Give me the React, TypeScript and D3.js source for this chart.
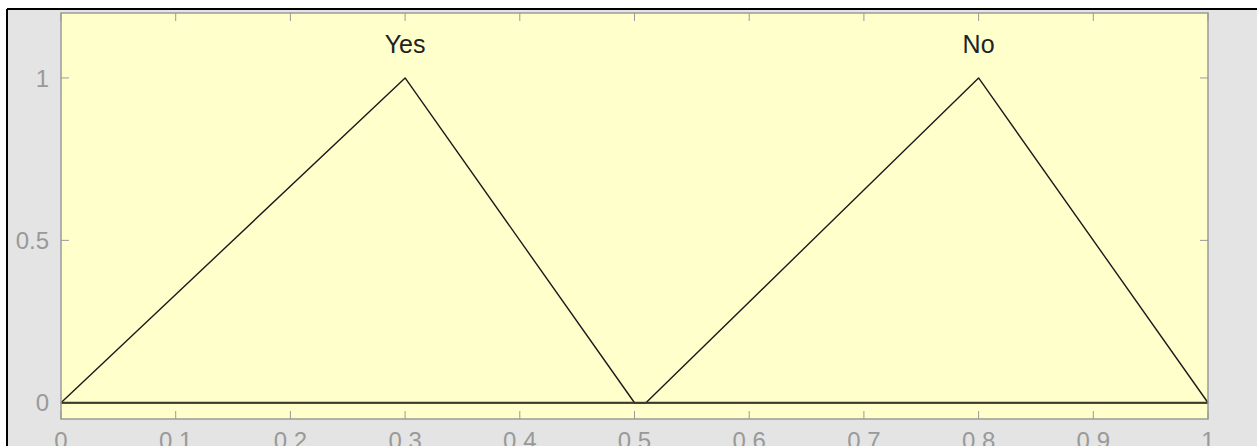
import React from "react";
import * as d3 from "d3";

// Membership function breakpoints (x, membership)
const yesX = [0, 0.3, 0.5, 1];
const yesY = [0, 1, 0, 0];
const noX = [0, 0.51, 0.8, 1];
const noY = [0, 0, 1, 0];

const mfNames = ["Yes", "No"];
const mfPeaks = [0.3, 0.8];

const xTicks = [0, 0.1, 0.2, 0.3, 0.4, 0.5, 0.6, 0.7, 0.8, 0.9, 1];
const yTicks = [0, 0.5, 1];

const W = 1257;
const H = 446;
const plot = { left: 61, right: 1208, top: 13, bottom: 419 };

export default function App() {
  const x = d3.scaleLinear().domain([0, 1]).range([plot.left, plot.right]);
  const y = d3.scaleLinear().domain([-0.05, 1.2]).range([plot.bottom, plot.top]);

  const line = d3
    .line<[number, number]>()
    .x((d) => x(d[0]))
    .y((d) => y(d[1]));

  const series: [number, number][][] = [
    yesX.map((v, i) => [v, yesY[i]] as [number, number]),
    noX.map((v, i) => [v, noY[i]] as [number, number]),
  ];

  const font = "Liberation Sans, Arial, Helvetica, sans-serif";
  const axisGray = "#9a9a9a";
  const textGray = "#999999";
  const tickLen = 8;

  return (
    <svg
      width={W}
      height={H}
      style={{ position: "absolute", left: 0, top: 0, display: "block" }}
    >
      <rect x={0} y={0} width={W} height={H} fill="#ffffff" />
      {/* figure panel */}
      <rect x={7} y={9} width={W - 7} height={H - 9} fill="#e4e4e4" />
      <line x1={7} y1={9} x2={W} y2={9} stroke="#000" strokeWidth={2} />
      <line x1={7} y1={9} x2={7} y2={H} stroke="#000" strokeWidth={2} />

      {/* axes area */}
      <rect
        x={plot.left}
        y={plot.top}
        width={plot.right - plot.left}
        height={plot.bottom - plot.top}
        fill="#ffffcc"
      />

      {/* ticks */}
      {xTicks.map((t) => (
        <g key={"xt" + t}>
          <line x1={x(t)} x2={x(t)} y1={plot.bottom} y2={plot.bottom - tickLen} stroke={axisGray} strokeWidth={1} />
          <line x1={x(t)} x2={x(t)} y1={plot.top} y2={plot.top + tickLen} stroke={axisGray} strokeWidth={1} />
          <text
            x={x(t)}
            y={449}
            textAnchor="middle"
            fontFamily={font}
            fontSize={24}
            fill={textGray}
          >
            {String(t)}
          </text>
        </g>
      ))}
      {yTicks.map((t) => (
        <g key={"yt" + t}>
          <line x1={plot.left} x2={plot.left + tickLen} y1={y(t)} y2={y(t)} stroke={axisGray} strokeWidth={1} />
          <line x1={plot.right} x2={plot.right - tickLen} y1={y(t)} y2={y(t)} stroke={axisGray} strokeWidth={1} />
          <text
            x={49}
            y={y(t)}
            dy="0.36em"
            textAnchor="end"
            fontFamily={font}
            fontSize={24}
            fill={textGray}
          >
            {String(t)}
          </text>
        </g>
      ))}

      {/* membership functions; the flat zero segments of both overlap */}
      {series.map((s, i) => (
        <path key={"mf" + i} d={line(s) ?? ""} fill="none" stroke="#1a1a1a" strokeWidth={1.4} strokeLinejoin="round" />
      ))}
      <line x1={x(0)} x2={x(1)} y1={y(0)} y2={y(0)} stroke="#3a3a2a" strokeWidth={2.2} />

      {/* axes box */}
      <rect
        x={plot.left}
        y={plot.top}
        width={plot.right - plot.left}
        height={plot.bottom - plot.top}
        fill="none"
        stroke={axisGray}
        strokeWidth={1.5}
      />

      {/* function names */}
      {mfNames.map((n, i) => (
        <text
          key={"lbl" + n}
          x={x(mfPeaks[i])}
          y={53}
          textAnchor="middle"
          fontFamily={font}
          fontSize={25}
          fill="#222"
        >
          {n}
        </text>
      ))}
    </svg>
  );
}
